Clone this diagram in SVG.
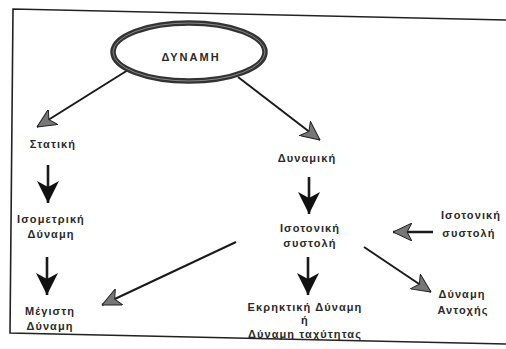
<svg xmlns="http://www.w3.org/2000/svg" width="506" height="349" viewBox="0 0 506 349">
<style>
text{font-family:"Liberation Sans",Arial,sans-serif;font-size:11px;font-weight:bold;fill:#2a2a2a;text-anchor:middle;letter-spacing:1.1px}
.ln{fill:none;stroke:#1a1a1a;stroke-width:2}
.thick{stroke-width:2.6}
</style>
<defs>
<marker id="hb" viewBox="0 0 22 22" refX="22" refY="11" markerWidth="22" markerHeight="22" markerUnits="userSpaceOnUse" orient="auto">
<path d="M22,11 L0,0 L6,11 L0,22 Z" fill="#111"/>
</marker>
<marker id="hg" viewBox="0 0 19 18" refX="19" refY="9" markerWidth="19" markerHeight="18" markerUnits="userSpaceOnUse" orient="auto">
<path d="M19,9 L0,0 L5,9 L0,18 Z" fill="#777" stroke="#222" stroke-width="1"/>
</marker>
</defs>
<rect width="506" height="349" fill="#fff"/>
<polyline points="506,20 13,9 10,333 506,344" fill="none" stroke="#222" stroke-width="1.6"/>
<g id="connectors">
<line class="ln" x1="128" y1="70" x2="37" y2="127" marker-end="url(#hg)"/>
<line class="ln" x1="238" y1="77" x2="320" y2="140" marker-end="url(#hg)"/>
<line class="ln thick" x1="48" y1="165" x2="48" y2="203" marker-end="url(#hb)"/>
<line class="ln thick" x1="47" y1="257" x2="47" y2="295" marker-end="url(#hb)"/>
<line class="ln thick" x1="309" y1="177" x2="309" y2="214" marker-end="url(#hb)"/>
<line class="ln thick" x1="308" y1="257" x2="308" y2="295" marker-end="url(#hb)"/>
<line class="ln" x1="236" y1="242" x2="102" y2="305" marker-end="url(#hg)"/>
<line class="ln thick" x1="433" y1="232" x2="393" y2="232" marker-end="url(#hg)"/>
<line class="ln" x1="364" y1="247" x2="431" y2="292" marker-end="url(#hg)"/>
</g>
<g id="n-dynami">
<ellipse cx="189" cy="52" rx="76" ry="29" fill="none" stroke="#333" stroke-width="5.5"/>
<ellipse cx="189" cy="52" rx="76" ry="29" fill="none" stroke="#888" stroke-width="1"/>
<text x="191" y="61" style="letter-spacing:2px">ΔΥΝΑΜΗ</text>
</g>
<g id="n-statiki"><text x="53" y="148">Στατική</text></g>
<g id="n-isometriki"><text x="51" y="223">Ισομετρική</text><text x="51" y="238">Δύναμη</text></g>
<g id="n-megisti"><text x="50" y="315">Μέγιστη</text><text x="50" y="330">Δύναμη</text></g>
<g id="n-dynamiki"><text x="307" y="162">Δυναμική</text></g>
<g id="n-isotoniki"><text x="310" y="232">Ισοτονική</text><text x="310" y="247">συστολή</text></g>
<g id="n-ekrixiki"><text x="305" y="311">Εκρηκτική Δύναμη</text><text x="305" y="324">ή</text><text x="305" y="338">Δύναμη ταχύτητας</text></g>
<g id="n-isotoniki2"><text x="471" y="219">Ισοτονική</text><text x="469" y="237">συστολή</text></g>
<g id="n-antoxi"><text x="462" y="298">Δύναμη</text><text x="463" y="314">Αντοχής</text></g>
</svg>
